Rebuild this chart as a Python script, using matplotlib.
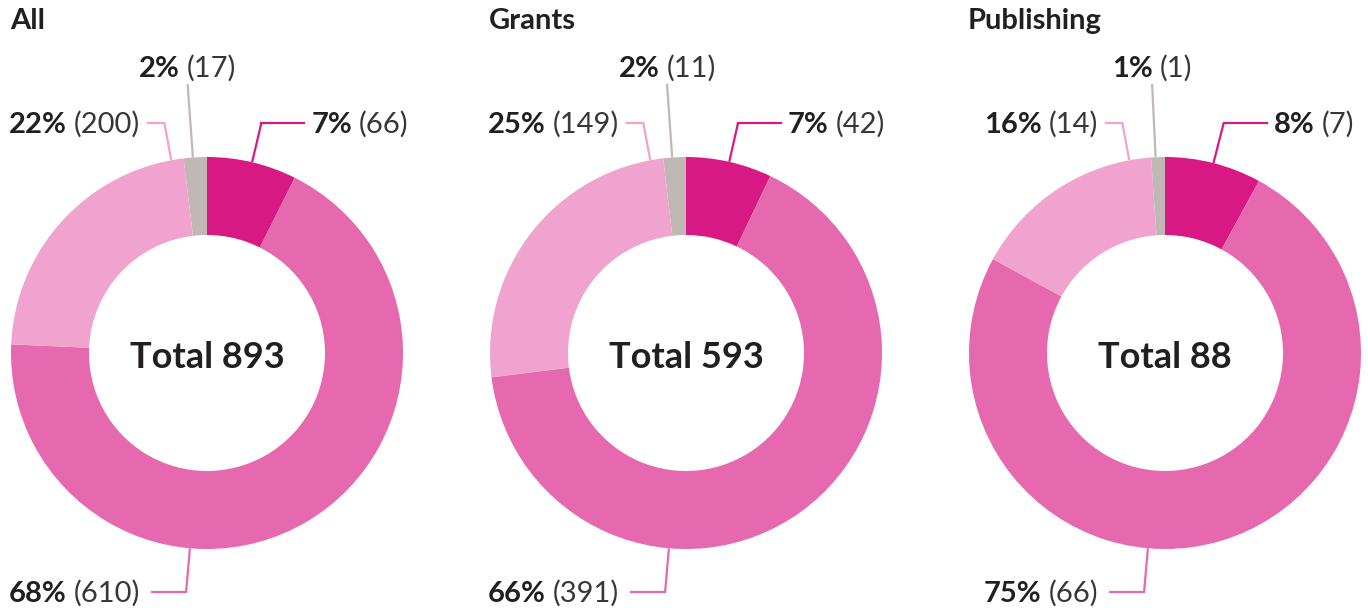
import matplotlib
matplotlib.use("Agg")
import matplotlib.pyplot as plt
import numpy as np

plt.rcParams["font.family"] = ["Lato", "DejaVu Sans"]

W, H = 1368, 611

# data (slices clockwise from 12 o'clock)
titles = ["All", "Grants", "Publishing"]
totals = [893, 593, 88]
all_counts = [66, 610, 200, 17]
grants_counts = [42, 391, 149, 11]
publishing_counts = [7, 66, 14, 1]
all_pct = [7, 68, 22, 2]
grants_pct = [7, 66, 25, 2]
publishing_pct = [8, 75, 16, 1]

counts = [all_counts, grants_counts, publishing_counts]
pcts = [all_pct, grants_pct, publishing_pct]

colors = ["#D81984", "#E668AE", "#F0A3CE", "#C1B8B6"]
TXT = "#231F20"
TXT2 = "#3A3638"

# layout (pixels, measured from the top)
centers_x = [207, 686, 1165]
CY = 353
R = 196
R_IN = 118
FS = 21
GAP = 7

fig = plt.figure(figsize=(W / 100, H / 100), dpi=100)
ax = fig.add_axes([0, 0, 1, 1])
renderer = fig.canvas.get_renderer()


def label(x, y, bold, normal, ha):
    # y is the text baseline, top-down pixels
    tb = ax.text(0, H - y, bold, fontsize=FS, fontweight="bold", color=TXT, va="baseline")
    tn = ax.text(0, H - y, normal, fontsize=FS, color=TXT2, va="baseline")
    wb = tb.get_window_extent(renderer).width
    wn = tn.get_window_extent(renderer).width
    w = wb + GAP + wn
    if ha == "left":
        x0 = x
    elif ha == "right":
        x0 = x - w
    else:
        x0 = x - w / 2
    tb.set_x(x0)
    tn.set_x(x0 + wb + GAP)


def leader(cx, ang, y_end, color):
    a = np.radians(ang)
    x1, y1 = cx + R * np.sin(a), CY - R * np.cos(a)
    r2 = (CY - y_end) / np.cos(a)
    x2 = cx + r2 * np.sin(a)
    ax.plot([x1, x2], [H - y1, H - y_end], color=color, lw=1.6, solid_capstyle="butt")
    return x2


for cx, title, tot, vals, pc in zip(centers_x, titles, totals, counts, pcts):
    ax.pie(vals, radius=R, center=(cx, H - CY), startangle=90, counterclock=False,
           colors=colors, wedgeprops=dict(width=R - R_IN, linewidth=0))

    ax.text(cx - 197, H - 29, title, fontsize=FS, fontweight="bold", color=TXT, va="baseline")
    ax.text(cx, H - 368, f"Total {tot}", fontsize=26, fontweight="bold", color=TXT,
            ha="center", va="baseline")

    s = sum(vals)
    cum = np.cumsum([0] + vals[:-1])
    mids = [360 * (c + v / 2) / s for c, v in zip(cum, vals)]

    # dark slice: label to the upper right
    xe = leader(cx, mids[0], 123, colors[0])
    ax.plot([xe, xe + 43], [H - 123, H - 123], color=colors[0], lw=1.6)
    label(xe + 50, 133, f"{pc[0]}%", f"({vals[0]})", "left")

    # big slice: label at the bottom left
    xe = leader(cx, 185, 592, colors[1])
    ax.plot([xe, xe - 34], [H - 592, H - 592], color=colors[1], lw=1.6)
    label(xe - 46, 602, f"{pc[1]}%", f"({vals[1]})", "right")

    # light slice: label to the upper left
    xe = leader(cx, -10.5, 123, colors[2])
    ax.plot([xe, xe - 16], [H - 123, H - 123], color=colors[2], lw=1.6)
    label(xe - 24, 133, f"{pc[2]}%", f"({vals[2]})", "right")

    # grey slice: label on top
    xe = leader(cx, mids[3] - 360 - 0.7, 84, colors[3])
    label(xe, 77, f"{pc[3]}%", f"({vals[3]})", "center")

ax.set_xlim(0, W)
ax.set_ylim(0, H)
ax.set_aspect("auto")
ax.axis("off")

fig.savefig("out.png", dpi=100, facecolor="white")
